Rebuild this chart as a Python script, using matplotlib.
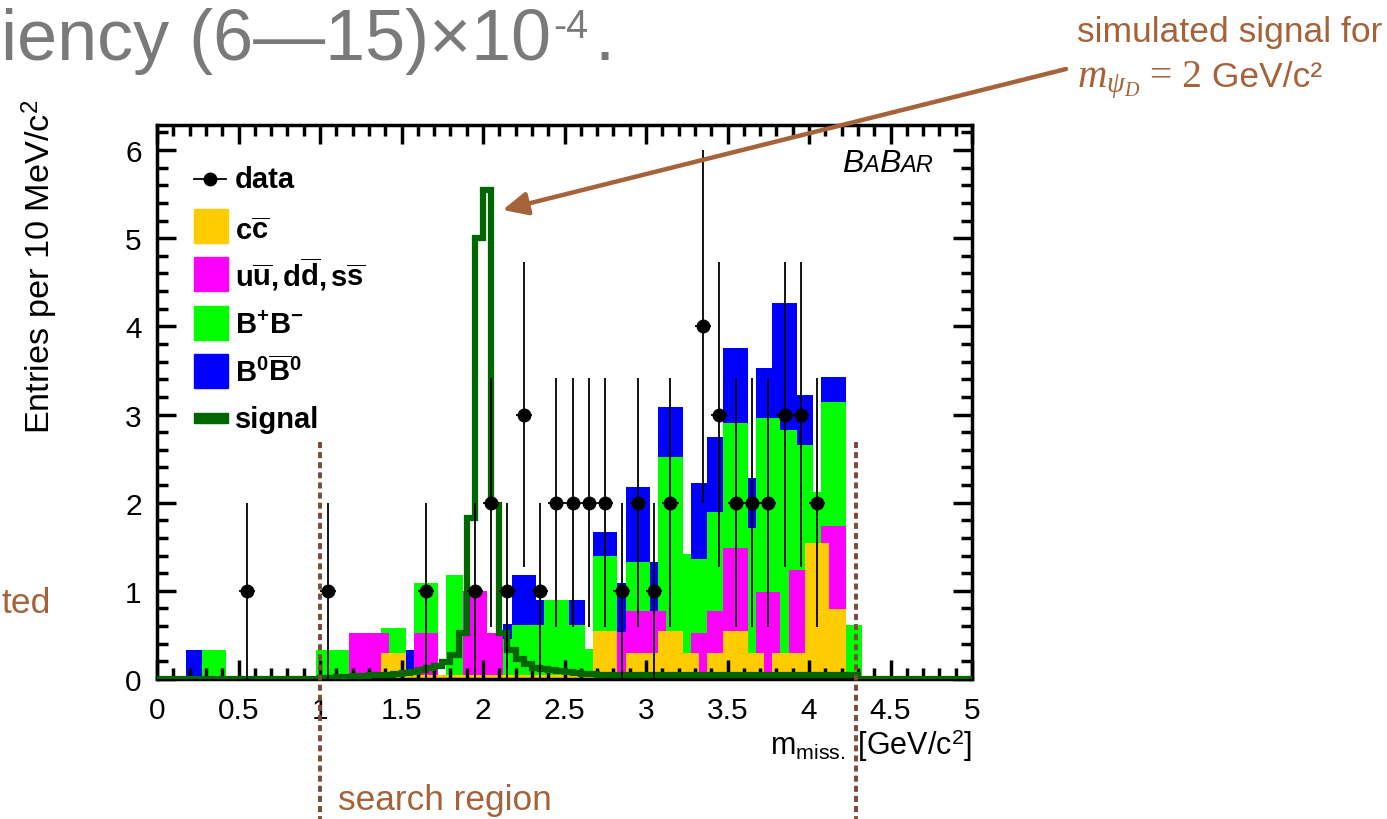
import numpy as np
import matplotlib
matplotlib.use('Agg')
import matplotlib.pyplot as plt
from matplotlib.ticker import MultipleLocator, FormatStrFormatter
from matplotlib.patches import Rectangle
from matplotlib.lines import Line2D

plt.rcParams['font.family'] = 'Liberation Sans'
plt.rcParams['mathtext.fontset'] = 'custom'
plt.rcParams['mathtext.rm'] = 'Liberation Sans'
plt.rcParams['mathtext.it'] = 'Liberation Serif:italic'
plt.rcParams['mathtext.bf'] = 'Liberation Sans:bold'

# data points (bin centres, counts)
data_x = [0.55, 1.05, 1.65, 1.95, 2.05, 2.15, 2.25, 2.35, 2.45, 2.55, 2.65, 2.75,
          2.85, 2.95, 3.05, 3.15, 3.35, 3.45, 3.55, 3.65, 3.75, 3.85, 3.95, 4.05]
data_n = [1, 1, 1, 1, 2, 1, 3, 1, 2, 2, 2, 2,
          1, 2, 1, 2, 4, 3, 2, 2, 2, 3, 3, 2]

# background MC, 0.05 wide bins centred on 0.20 ... 4.30
bkg_first = 0.20
bkg_w = 0.05
cc = [0, 0, 0, 0, 0, 0, 0, 0, 0, 0,
      0, 0, 0, 0, 0, 0, 0, 0, 0.04, 0.04,
      0.05, 0.05, 0.05, 0.05, 0.29, 0.29, 0.29, 0.05, 0.05, 0.05,
      0.05, 0.05, 0.05, 0.05, 0.05, 0.05, 0.05, 0.05, 0.05, 0.05,
      0.05, 0.05, 0.05, 0.05, 0.05, 0.05, 0.05, 0.05, 0.05, 0.05,
      0.55, 0.55, 0.55, 0.04, 0.29, 0.29, 0.29, 0.29, 0.55, 0.55,
      0.55, 0.29, 0.29, 0.04, 0.29, 0.29, 0.55, 0.55, 0.55, 0.29,
      0.29, 0.04, 0.29, 0.29, 0.29, 0.29, 1.54, 1.54, 1.54, 0.79,
      0.79, 0.04, 0.04]
uds = [0, 0, 0, 0, 0, 0, 0, 0, 0, 0,
       0, 0, 0, 0, 0, 0, 0, 0, 0, 0,
       0.475, 0.475, 0.475, 0.475, 0.235, 0, 0, 0, 0.475, 0.475,
       0.475, 0, 0, 0, 0.95, 0.95, 0.95, 0.47, 0.47, 0,
       0, 0, 0, 0, 0, 0, 0, 0, 0, 0,
       0, 0, 0, 0.49, 0.48, 0.48, 0.48, 0.48, 0.22, 0,
       0, 0, 0.23, 0.48, 0.48, 0.48, 0.94, 0.94, 0.94, 0,
       0.70, 0.95, 0.70, 0, 0.95, 0.95, 0, 0, 0.20, 0.95,
       0.95, 0, 0]
bpbm = [0, 0, 0.33, 0.33, 0.33, 0, 0, 0, 0, 0,
        0, 0, 0, 0, 0, 0, 0.33, 0.33, 0.29, 0.29,
        0, 0, 0, 0, 0.05, 0.285, 0.285, 0, 0.56, 0.56,
        0.56, 0, 1.13, 1.13, 0, 0, 0, 0, 0, 0.40,
        0.565, 0.565, 0.565, 0.565, 0.85, 0.85, 0.85, 0.565, 0.565, 0.29,
        0.84, 0.84, 0.84, 0, 0.56, 0.56, 0.56, 0, 1.75, 1.97,
        1.97, 1.13, 0.84, 0.84, 1.12, 1.12, 1.41, 1.41, 1.41, 1.42,
        1.97, 1.97, 1.97, 2.54, 1.59, 1.41, 1.11, 0.58, 1.40, 1.40,
        1.40, 0.57, 0.57]
b0b0 = [0.33, 0.33, 0, 0, 0, 0, 0, 0, 0, 0,
        0, 0, 0, 0, 0, 0, 0, 0, 0, 0,
        0, 0, 0, 0, 0, 0, 0, 0.28, 0, 0,
        0, 0, 0, 0, 0, 0, 0, 0, 0, 0.17,
        0.565, 0.565, 0.565, 0.285, 0, 0, 0, 0.285, 0.285, 0,
        0.28, 0.28, 0.28, 0.56, 0.85, 0.85, 0.85, 0.56, 0.57, 0.57,
        0.57, 0, 0.86, 0.86, 0.86, 0.86, 0.85, 0.85, 0.85, 0.57,
        0.57, 0.57, 1.30, 1.43, 1.43, 0.57, 0.57, 0, 0.29, 0.29,
        0.29, 0, 0]

# simulated signal, 0.05 wide bins from 0 to 5
sig_edges_lo = 0.0
sig_w = 0.05
signal = [0] * 20 + [
    0.01, 0.015, 0.02, 0.025, 0.03, 0.035, 0.04, 0.045, 0.05, 0.06,
    0.07, 0.08, 0.10, 0.12, 0.15, 0.19, 0.27, 0.52, 1.83, 5.0,
    5.55, 1.97, 0.52, 0.33, 0.23, 0.17, 0.13, 0.11, 0.10, 0.09,
    0.08, 0.07, 0.06, 0.06, 0.05, 0.05, 0.05, 0.05, 0.05, 0.05,
    0.05, 0.05, 0.05, 0.05, 0.05, 0.05, 0.05, 0.05, 0.05, 0.05,
    0.05, 0.05, 0.05, 0.05, 0.05, 0.05, 0.05, 0.05, 0.05, 0.05,
    0.05, 0.05, 0.05, 0.05, 0.05, 0.05] + [0] * 14

search_region = [1.0, 4.29]
arrow_tip = (2.12, 5.32)

col_cc = '#FFCC00'
col_uds = '#FF00FF'
col_bpbm = '#00FF00'
col_b0b0 = '#0000FF'
col_sig = '#006600'
brown = '#A6633A'
dark_brown = '#7B4B35'
grey = '#7A7A7A'

W, H = 1387, 820
fig = plt.figure(figsize=(W / 100, H / 100), dpi=100)
ax = fig.add_axes([157 / W, 1 - 680 / H, (972 - 157) / W, (680 - 125.5) / H])

nb = len(cc)
edges = bkg_first - bkg_w / 2 + bkg_w * np.arange(nb + 1)
c1 = np.array(cc)
c2 = c1 + np.array(uds)
c3 = c2 + np.array(bpbm)
c4 = c3 + np.array(b0b0)
for cum, col in [(c4, col_b0b0), (c3, col_bpbm), (c2, col_uds), (c1, col_cc)]:
    ax.stairs(cum, edges, fill=True, color=col, lw=0, zorder=1)

sig_edges = sig_edges_lo + sig_w * np.arange(len(signal) + 1)
ax.stairs(signal, sig_edges, baseline=None, color=col_sig, lw=4.5, zorder=3)

ax.errorbar(data_x, data_n, yerr=np.sqrt(data_n), xerr=0.05, fmt='o', color='k',
            ms=9, elinewidth=1.3, capsize=0, zorder=4)

for xs in search_region:
    ax.plot([xs, xs], [2.69, -1.6], clip_on=False, color=dark_brown, lw=2.8,
            ls=(0, (1.55, 1.05)), zorder=5)

ax.set_xlim(0, 5)
ax.set_ylim(0, 6.29)
ax.xaxis.set_major_locator(MultipleLocator(0.5))
ax.xaxis.set_minor_locator(MultipleLocator(0.1))
ax.yaxis.set_major_locator(MultipleLocator(1))
ax.yaxis.set_minor_locator(MultipleLocator(0.2))
ax.xaxis.set_major_formatter(FormatStrFormatter('%g'))
ax.yaxis.set_major_formatter(FormatStrFormatter('%g'))
ax.tick_params(which='both', direction='in', top=True, right=True, width=2.5,
               labelsize=21.5)
ax.tick_params(which='major', length=14)
ax.tick_params(which='minor', length=8)
ax.tick_params(axis='x', pad=12)
ax.tick_params(axis='y', pad=11)
for sp in ax.spines.values():
    sp.set_linewidth(2.5)

r = fig.canvas.get_renderer()


def put(x, y, s, **kw):
    return fig.text(x / W, 1 - y / H, s, **kw)


def fit(t, width=None, height=None):
    bb = t.get_window_extent(r)
    if width is not None:
        t.set_fontsize(t.get_fontsize() * width / bb.width)
    else:
        t.set_fontsize(t.get_fontsize() * height / bb.height)
    return t


def chain(x, y, parts, **common):
    for s, kw in parts:
        t = put(x, y, s, va='baseline', **common, **kw)
        x += t.get_window_extent(r).width
    return x


# axis titles
yl = put(40, 267, 'Entries per 10 MeV/c$^{2}$', rotation=90, ha='center', va='center',
         fontsize=23)
fit(yl, height=335)
put(972, 755, r'm$_{\mathrm{miss.}}$ [GeV/c$^{2}$]', ha='right', va='baseline',
    fontsize=22)

# BaBar logo
chain(842, 172, [('B', dict(fontsize=23)), ('A', dict(fontsize=17)),
                 ('B', dict(fontsize=23)), ('AR', dict(fontsize=17))],
      style='italic')

# legend
leg_labels = [r'$\mathbf{c\overline{c}}$',
              r'$\mathbf{u\overline{u},d\overline{d},s\overline{s}}$',
              r'$\mathbf{B^{+}B^{-}}$',
              r'$\mathbf{B^{0}\overline{B}^{0}}$']
leg_cols = [col_cc, col_uds, col_bpbm, col_b0b0]
fig.add_artist(Line2D([194 / W, 226 / W], [1 - 180 / H] * 2, color='k', lw=1.3,
                      transform=fig.transFigure))
fig.add_artist(Line2D([210 / W], [1 - 180 / H], color='k', marker='o', ms=9,
                      transform=fig.transFigure))
put(235, 188, 'data', fontsize=21, fontweight='bold', va='baseline')
baselines = [240, 287, 334, 382]
for i, (lab, col) in enumerate(zip(leg_labels, leg_cols)):
    top = 210 + 48.3 * i
    fig.add_artist(Rectangle((194 / W, 1 - (top + 34) / H), 34 / W, 34 / H,
                             color=col, transform=fig.transFigure))
    put(235, baselines[i], lab, fontsize=21, va='baseline')
fig.add_artist(Rectangle((194 / W, 1 - 424 / H), 34 / W, 10 / H, color=col_sig,
                         transform=fig.transFigure))
put(235, 428, 'signal', fontsize=21, fontweight='bold', va='baseline')

# slide annotations
head = put(1, 60, 'iency (6\u201415)\u00d710', fontsize=45, color=grey, va='baseline')
fit(head, width=550)
put(553, 38, '-4', fontsize=head.get_fontsize() * 0.55, color=grey, va='baseline')
put(594, 60, '.', fontsize=head.get_fontsize(), color=grey, va='baseline')

sim = put(1077, 42, 'simulated signal for', fontsize=23, color=brown, va='baseline')
fit(sim, width=306)
fs = sim.get_fontsize()
xx = chain(1077, 87, [(r'$m_{\psi_D}$', dict(fontsize=fs * 1.15))], color=brown)
xx = chain(xx, 87, [(' = 2', dict(fontsize=fs * 1.12, family='Liberation Serif'))],
           color=brown)
chain(xx, 87, [(' GeV/c\u00b2', dict(fontsize=fs))], color=brown)

put(1, 613, 'ted', fontsize=fs, color=brown, va='baseline')
sr = put(338, 810, 'search region', fontsize=fs, color=brown, va='baseline')
fit(sr, width=214)

ax.annotate('', xy=arrow_tip, xycoords='data',
            xytext=(1066 / W, 1 - 70 / H), textcoords='figure fraction',
            arrowprops=dict(arrowstyle='-|>,head_length=0.75,head_width=0.35',
                            color=brown, lw=3.2, mutation_scale=20, shrinkA=0, shrinkB=0),
            annotation_clip=False, zorder=6)

fig.savefig('out.png', dpi=100)
